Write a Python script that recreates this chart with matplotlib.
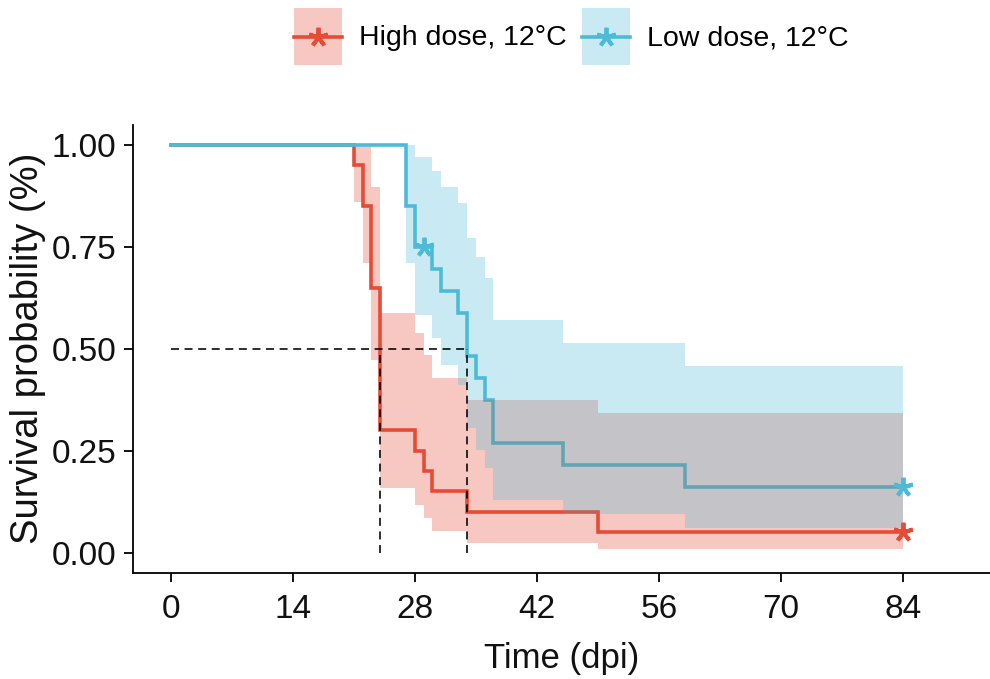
import matplotlib
matplotlib.use('Agg')
import matplotlib.pyplot as plt
from matplotlib import font_manager as fm
from matplotlib.patches import Rectangle
from matplotlib.lines import Line2D
from matplotlib.legend_handler import HandlerBase
import numpy as np

names = {f.name for f in fm.fontManager.ttflist}
HAS_NARROW = 'Liberation Sans Narrow' in names
NARROW = 'Liberation Sans Narrow' if HAS_NARROW else 'Liberation Sans'
REG = 'Liberation Sans'
# sizes: narrow font can use full size; regular font is shrunk to match widths
TICK_FS = 27 if HAS_NARROW else 24
XLAB_FS = 27 if HAS_NARROW else 25
LEG_FS = 24 if HAS_NARROW else 20.5

# ---------------- data ----------------
groups = ["High dose, 12°C", "Low dose, 12°C"]
colors = ["#E64B35", "#4DBBD5"]

time_high = [0, 21, 22, 23, 24, 28, 29, 30, 34, 49, 84]
surv_high = [1.0, 0.95, 0.85, 0.65, 0.30, 0.25, 0.20, 0.15, 0.10, 0.05, 0.05]
upper_high = [1.0, 1.0, 1.0, 0.898, 0.587, 0.539, 0.485, 0.429, 0.375, 0.342, 0.342]
lower_high = [1.0, 0.861, 0.71, 0.473, 0.159, 0.118, 0.086, 0.054, 0.024, 0.008, 0.008]
censor_time_high = [84]
censor_surv_high = [0.05]

time_low = [0, 27, 28, 30, 31, 33, 34, 35, 36, 37, 45, 59, 84]
surv_low = [1.0, 0.85, 0.75, 0.696, 0.643, 0.589, 0.482, 0.429, 0.375, 0.268, 0.214, 0.161, 0.161]
upper_low = [1.0, 1.0, 0.971, 0.937, 0.898, 0.858, 0.771, 0.725, 0.673, 0.571, 0.514, 0.457, 0.457]
lower_low = [1.0, 0.71, 0.583, 0.526, 0.461, 0.41, 0.306, 0.252, 0.208, 0.13, 0.095, 0.0605, 0.0605]
censor_time_low = [29, 84]
censor_surv_low = [0.75, 0.161]

x_ticks = [0, 14, 28, 42, 56, 70, 84]
y_ticks = [0.0, 0.25, 0.50, 0.75, 1.00]
y_ticklabels = ["0.00", "0.25", "0.50", "0.75", "1.00"]

# ---------------- figure ----------------
fig = plt.figure(figsize=(9.9, 6.79), dpi=100)
ax = fig.add_axes([0.1343, 0.1561, 1.0 - 0.1343, 0.8165 - 0.1561])

series = [
    (time_high, surv_high, upper_high, lower_high, censor_time_high, censor_surv_high),
    (time_low, surv_low, upper_low, lower_low, censor_time_low, censor_surv_low),
]

ASTER = (5, 2, 0)
LW = 2.6
MS = 14
MEW = 2.8

for (t, s, up, lo, ct, cs), col in zip(series, colors):
    ax.fill_between(t, lo, up, step='post', color=col, alpha=0.3, linewidth=0, zorder=1)

# overlap region of the two confidence bands
def step_eval(t, v, grid):
    t = np.asarray(t); v = np.asarray(v)
    idx = np.searchsorted(t, grid, side='right') - 1
    return v[np.clip(idx, 0, len(v) - 1)]

grid = np.union1d(time_high, time_low)
ov_lo = np.maximum(step_eval(time_high, lower_high, grid), step_eval(time_low, lower_low, grid))
ov_hi = np.minimum(step_eval(time_high, upper_high, grid), step_eval(time_low, upper_low, grid))
ov_hi = np.maximum(ov_hi, ov_lo)
ax.fill_between(grid, ov_lo, ov_hi, step='post', color=(237/255, 239/255, 246/255),
                linewidth=0, zorder=2)

for (t, s, up, lo, ct, cs), col in zip(series, colors):
    ax.step(t, s, where='post', color=col, lw=LW, zorder=3, solid_joinstyle='miter')

ax.fill_between(grid, ov_lo, ov_hi, step='post', color=(134/255, 131/255, 131/255),
                alpha=0.4, linewidth=0, zorder=4)

for (t, s, up, lo, ct, cs), col in zip(series, colors):
    ax.plot(ct, cs, linestyle='none', marker=ASTER, markersize=MS, mew=MEW,
            color=col, zorder=6)

# median survival lines
medians = []
for (t, s, up, lo, ct, cs) in series:
    s_arr = np.asarray(s)
    medians.append(np.asarray(t)[np.argmax(s_arr <= 0.5)])
dash = dict(color='black', lw=1.15, dashes=(5, 3.5), zorder=5)
ax.plot([0, max(medians)], [0.5, 0.5], **dash)
for m in medians:
    ax.plot([m, m], [0, 0.5], **dash)

# ---------------- axes ----------------
ax.set_xlim(-4.36, 94.0)
ax.set_ylim(-0.05, 1.05)
ax.set_xticks(x_ticks)
ax.set_xticklabels([str(v) for v in x_ticks])
ax.set_yticks(y_ticks)
ax.set_yticklabels(y_ticklabels)
for sp in ['top', 'right']:
    ax.spines[sp].set_visible(False)
for sp in ['left', 'bottom']:
    ax.spines[sp].set_linewidth(1.3)
ax.tick_params(direction='out', length=6.5, width=1.3, labelsize=TICK_FS,
               colors='black', labelcolor='#111111')
ax.tick_params(axis='x', pad=8.5)
ax.tick_params(axis='y', pad=5.5)
for lab in ax.get_xticklabels() + ax.get_yticklabels():
    lab.set_family(NARROW)

ax.set_xlabel("Time (dpi)", fontsize=XLAB_FS, family=NARROW, color='#111111', labelpad=12)
ax.set_ylabel("Survival probability (%)", fontsize=27.5, family=REG, color='#111111')
ax.yaxis.set_label_coords(-0.1015, 0.5)

# ---------------- legend ----------------
class BandLineHandler(HandlerBase):
    def create_artists(self, legend, orig_handle, xdescent, ydescent, width, height,
                       fontsize, trans):
        col = orig_handle
        x0, y0 = -xdescent, -ydescent
        yc = y0 + height / 2.0
        rect = Rectangle((x0, y0), width, height, facecolor=col, alpha=0.3,
                         edgecolor='none', transform=trans)
        line = Line2D([x0, x0 + width], [yc, yc], color=col, lw=LW, transform=trans)
        mark = Line2D([x0 + width / 2.0], [yc], linestyle='none', marker=ASTER,
                      markersize=MS, mew=MEW, color=col, transform=trans)
        return [rect, line, mark]

class ColorKey:
    def __init__(self, c):
        self.c = c

keys = [ColorKey(c) for c in colors]

class KeyHandler(BandLineHandler):
    def create_artists(self, legend, orig_handle, *args):
        return super().create_artists(legend, orig_handle.c, *args)

leg = fig.legend(keys, groups, handler_map={ColorKey: KeyHandler()},
                 loc='upper center', bbox_to_anchor=(0.577, 0.988),
                 ncol=2, frameon=False, prop={'family': NARROW, 'size': LEG_FS},
                 handlelength=1.68, handleheight=2.7, handletextpad=0.6,
                 columnspacing=0.53, borderaxespad=0.0, borderpad=0.0)

fig.savefig('out.png', dpi=100)
